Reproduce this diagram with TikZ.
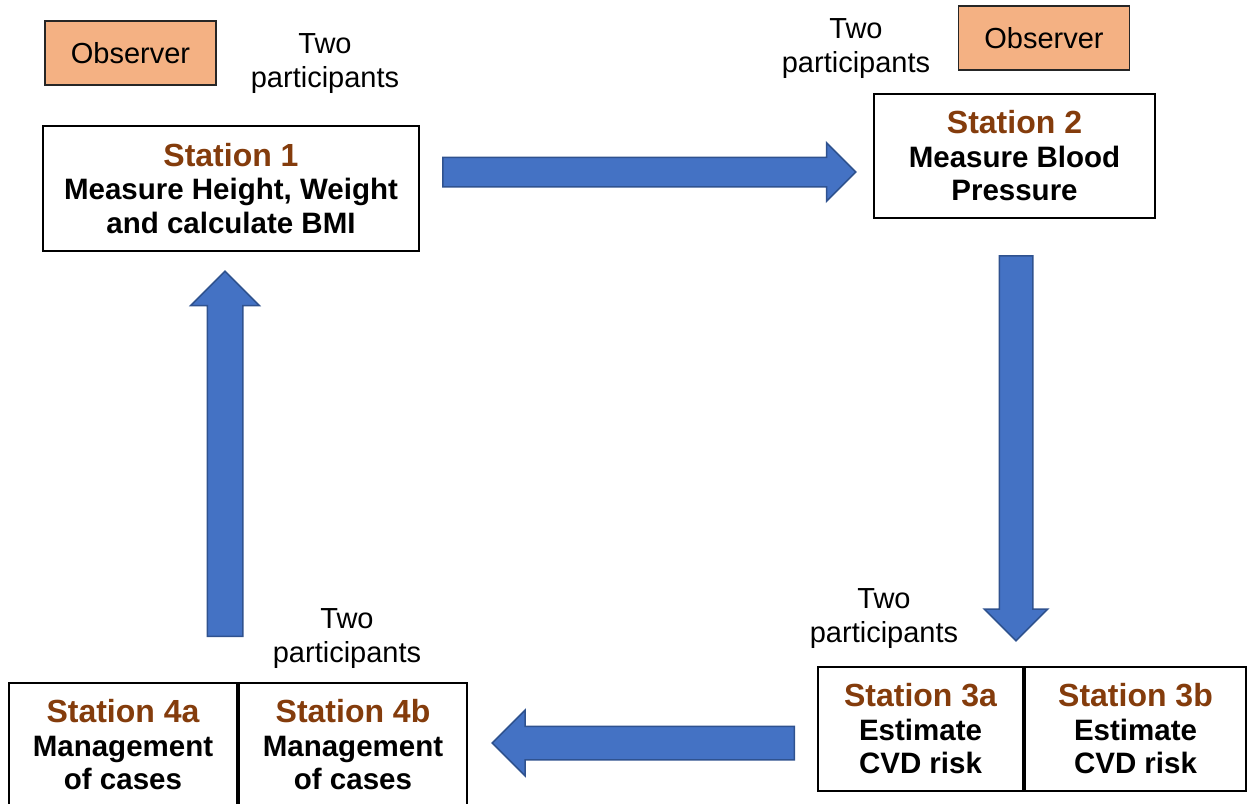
\documentclass[tikz,border=0pt]{standalone}
\usepackage{fontspec}
\setmainfont{Liberation Sans}
\usetikzlibrary{shapes.arrows}

\definecolor{obsfill}{HTML}{F4B183}
\definecolor{flowfill}{HTML}{4472C4}
\definecolor{flowedge}{HTML}{2F528F}
\definecolor{stationbrown}{HTML}{843C0C}

\newcommand{\stationtext}[3]{{\fontsize{32}{36}\selectfont\textcolor{stationbrown}{#1}}\\#2\\#3}

\begin{document}
\begin{tikzpicture}[x=1pt,y=-1pt]
  \tikzstyle{station}=[draw,line width=1.5pt,fill=white,align=center,inner sep=0pt,font=\bfseries\fontsize{29.5}{33.5}\selectfont];
  \tikzstyle{observer}=[draw=black!85,line width=1.5pt,fill=obsfill,minimum width=171pt,minimum height=64pt,font=\fontsize{29}{34}\selectfont];
  \tikzstyle{pair}=[align=center,inner sep=0pt,font=\fontsize{29}{34}\selectfont];
  \tikzstyle{flow}=[single arrow,draw=flowedge,fill=flowfill,line width=1.5pt,inner xsep=0pt,single arrow tip angle=90,anchor=tail];

  \useasboundingbox (0,0) rectangle (1252,803);
  \clip (0,0) rectangle (1252,803);

  % observers and participants
  \node[observer] (obs1) at (130.5,53) {Observer};
  \node[observer] (obs2) at (1044,38) {Observer};
  \node[pair] (pair1) at (325,64) {Two\\participants};
  \node[pair] (pair2) at (856,49) {Two\\participants};
  \node[pair] (pair3) at (884,619) {Two\\participants};
  \node[pair] (pair4) at (347,639) {Two\\participants};

  % stations
  \node[station,minimum width=376pt,minimum height=125pt] (st1) at (231,188.5)
    {\stationtext{Station 1}{Measure Height, Weight}{and calculate BMI}};
  \node[station,minimum width=281pt,minimum height=124pt] (st2) at (1014.5,156)
    {\stationtext{Station 2}{Measure Blood}{Pressure}};
  \node[station,minimum width=205pt,minimum height=124pt] (st3a) at (920.5,729)
    {\stationtext{Station 3a}{Estimate}{CVD risk}};
  \node[station,minimum width=221pt,minimum height=124pt] (st3b) at (1135.5,729)
    {\stationtext{Station 3b}{Estimate}{CVD risk}};
  \node[station,minimum width=228pt,minimum height=124pt] (st4a) at (123,745)
    {\stationtext{Station 4a}{Management}{of cases}};
  \node[station,minimum width=228pt,minimum height=124pt] (st4b) at (353,745)
    {\stationtext{Station 4b}{Management}{of cases}};

  % flow arrows, placed by their tails
  \coordinate (from1) at (442,172);
  \coordinate (from2) at (1016,255);
  \coordinate (from3) at (795,743);
  \coordinate (from4) at (225,637);
  \node[flow,inner ysep=14pt,minimum height=413pt,single arrow head extend=14.5pt] (go12) at (from1) {};
  \node[flow,rotate=-90,inner ysep=16pt,minimum height=385pt,single arrow head extend=15pt] (go23) at (from2) {};
  \node[flow,rotate=180,inner ysep=16pt,minimum height=302pt,single arrow head extend=16pt] (go34) at (from3) {};
  \node[flow,rotate=90,inner ysep=17pt,minimum height=365pt,single arrow head extend=16.5pt] (go41) at (from4) {};

\end{tikzpicture}
\end{document}
